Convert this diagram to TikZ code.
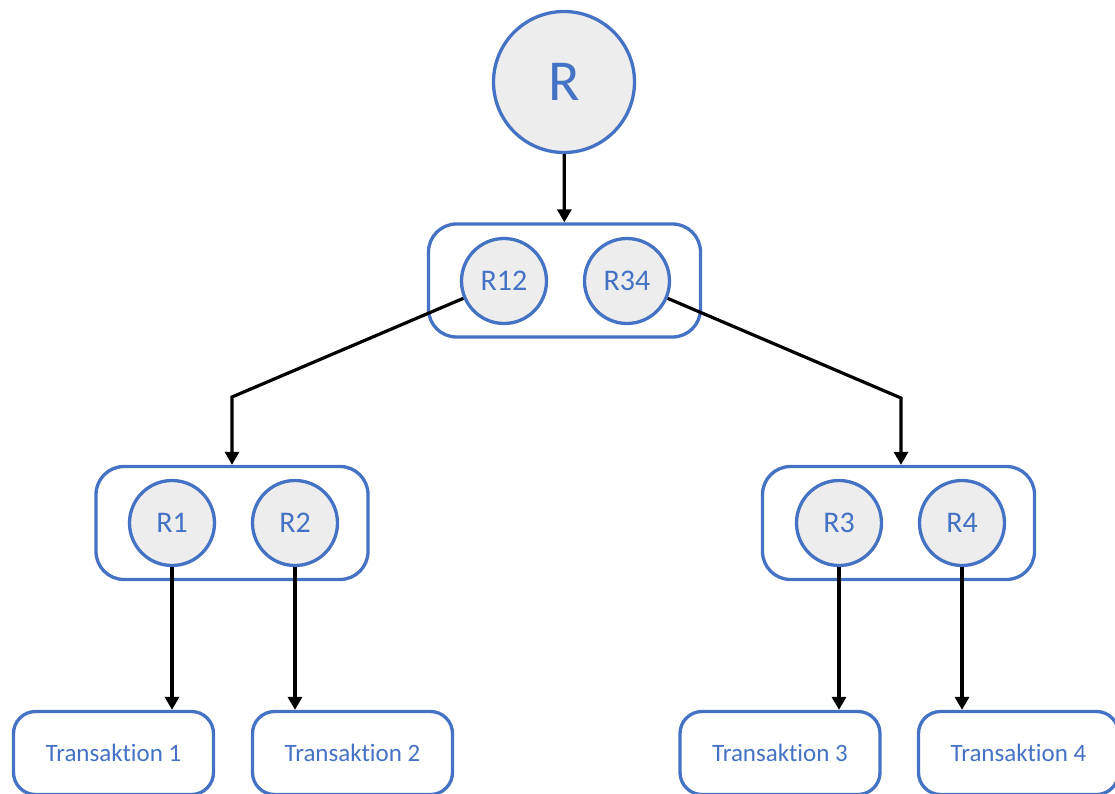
\documentclass[tikz,border=0pt]{standalone}
\usepackage{fontspec}
\setmainfont{Carlito}[Ligatures=NoCommon]
\usetikzlibrary{arrows.meta}
\definecolor{nodeblue}{HTML}{4472C4}
\definecolor{nodefill}{HTML}{EDEDED}
\begin{document}
\begin{tikzpicture}[x=1pt,y=-1pt,
  ball/.style={circle,draw=nodeblue,fill=nodefill,line width=3.3pt,minimum size=85pt,
    inner sep=0pt,text=nodeblue,font=\fontsize{30}{35}\selectfont},
  group/.style={draw=nodeblue,line width=3.3pt,rounded corners=28pt,
    minimum width=272pt,minimum height=113pt,inner sep=0pt},
  leaf/.style={draw=nodeblue,line width=3.3pt,rounded corners=22pt,
    minimum width=200pt,minimum height=83pt,text=nodeblue,
    font=\fontsize{25}{29}\selectfont},
  link/.style={line width=3.2pt,-{Triangle[width=14pt,length=13pt]}}]
\useasboundingbox (0,0) rectangle (1115,794);
\clip (0,0) rectangle (1115,794);

% root
\node[ball,minimum size=141pt,font=\fontsize{58}{66}\selectfont] (root) at (564,82) {R};

% grouping boxes
\node[group] (mid) at (564.5,280.5) {};
\node[group] (left) at (232,523) {};
\node[group] (right) at (898.5,523) {};

% inner circles
\node[ball] (r12) at (504,281) {R12};
\node[ball] (r34) at (627,281) {R34};
\node[ball] (r1) at (172,523) {R1};
\node[ball] (r2) at (295,523) {R2};
\node[ball] (r3) at (839,523) {R3};
\node[ball] (r4) at (962,523) {R4};

% transactions
\node[leaf] (t1) at (113.5,753) {Transaktion 1};
\node[leaf] (t2) at (352.5,753) {Transaktion 2};
\node[leaf] (t3) at (780,753) {Transaktion 3};
\node[leaf] (t4) at (1018.5,753) {Transaktion 4};

% connectors
\coordinate (bendL) at (232,397);
\coordinate (bendR) at (901,398);
\draw[link] (root) -- (mid);
\draw[link] (r12) -- (bendL) -- (left.north);
\draw[link] (r34) -- (bendR) -- (bendR |- right.north);
\draw[link] (r1.south) -- (r1.south |- t1.north);
\draw[link] (r2.south) -- (r2.south |- t2.north);
\draw[link] (r3.south) -- (r3.south |- t3.north);
\draw[link] (r4.south) -- (r4.south |- t4.north);
\end{tikzpicture}
\end{document}
